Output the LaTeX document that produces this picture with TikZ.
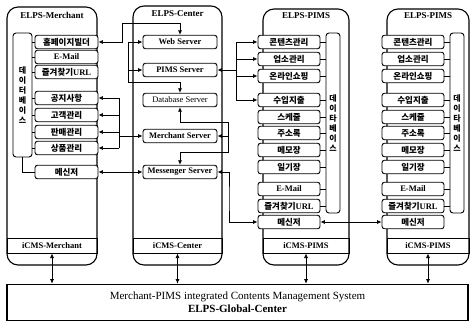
\documentclass[tikz,border=0pt]{standalone}
\usepackage{fontspec}
\setmainfont{Liberation Serif}
\newfontfamily\kr{Noto Sans CJK KR}
\usetikzlibrary{arrows.meta}

\tikzset{
  panel/.style={draw, line width=1.1pt, rounded corners=11pt},
  ttl/.style={font=\bfseries\fontsize{9}{10}\selectfont, inner sep=0pt},
  itm/.style={draw, fill=white, line width=0.9pt, rounded corners=2.5pt,
    minimum height=13.5pt, inner sep=0pt, font=\kr\bfseries\fontsize{8.5}{10}\selectfont},
  mitm/.style={itm, minimum width=63pt},
  pitm/.style={itm, minimum width=62pt},
  srv/.style={itm, minimum width=74pt, font=\bfseries\fontsize{8.5}{10}\selectfont},
  latin/.style={font=\bfseries\fontsize{8.5}{10}\selectfont},
  dbcol/.style={draw, fill=white, line width=0.9pt, rounded corners=3pt, inner sep=0pt,
    align=center, font=\kr\bfseries\fontsize{8}{10}\selectfont},
  band/.style={draw, line width=1pt, inner sep=0pt, minimum height=15pt,
    font=\bfseries\fontsize{8.5}{10}\selectfont},
  lnk/.style={line width=0.7pt},
  tip/.style={lnk, -{Latex[length=4.5pt,width=4pt]}},
  rtip/.style={lnk, {Latex[length=4.5pt,width=4pt]}-},
  dtip/.style={lnk, {Latex[length=4.5pt,width=4pt]}-{Latex[length=4.5pt,width=4pt]}},
}

\begin{document}
\begin{tikzpicture}[x=1pt,y=-1pt]
\useasboundingbox (0,0) rectangle (471,324);

% outer frames of the four systems
\draw[panel] (7,7) rectangle (97,265);
\draw[panel] (133,6) rectangle (222,265);
\draw[panel] (263,9) rectangle (349,265);
\draw[panel] (387,9) rectangle (469,265);

\node[ttl] (tm) at (52,15) {ELPS-Merchant};
\node[ttl] (tc) at (177.5,14) {ELPS-Center};
\node[ttl] (tp) at (306,16) {ELPS-PIMS};
\node[ttl] (tq) at (428,16) {ELPS-PIMS};

% iCMS bands
\node[band, minimum width=90pt] (mb) at (52,245.5) {iCMS-Merchant};
\node[band, minimum width=89pt] (cb) at (177.5,245.5) {iCMS-Center};
\node[band, minimum width=86pt] (pb) at (306,245.5) {iCMS-PIMS};
\node[band, minimum width=82pt] (qb) at (428,245.5) {iCMS-PIMS};

% global center
\node[draw, line width=1.6pt, minimum width=461pt, minimum height=36pt, inner sep=0pt,
  align=center, font=\fontsize{11}{13}\selectfont] (gc) at (237.5,302.5)
  {Merchant-PIMS integrated Contents Management System\\ \textbf{ELPS-Global-Center}};

% merchant side
\node[dbcol, minimum width=19pt, minimum height=124pt] (mdb) at (22.5,95) {데\\이\\터\\베\\이\\스};
\node[mitm] (m1) at (66.5,42) {홈페이지빌더};
\node[mitm, latin] (m2) at (66.5,57) {E-Mail};
\node[mitm] (m3) at (66.5,72) {즐겨찾기{\rmfamily URL}};
\node[mitm] (m4) at (66.5,98) {공지사항};
\node[mitm] (m5) at (66.5,115) {고객관리};
\node[mitm] (m6) at (66.5,132) {판매관리};
\node[mitm] (m7) at (66.5,148) {상품관리};
\node[mitm] (m8) at (66.5,172) {메신저};

% center servers
\node[srv] (web) at (180,42) {Web Server};
\node[srv] (pims) at (180,70) {PIMS Server};
\node[srv, font=\fontsize{8.5}{10}\selectfont] (dbs) at (180,100) {Database Server};
\node[srv] (msrv) at (180,136) {Merchant Server};
\node[srv] (msg) at (180,172) {Messenger Server};

% PIMS columns
\node[dbcol, minimum width=14pt, minimum height=180pt] (pdb) at (333,123) {데\\이\\타\\베\\이\\스};
\node[dbcol, minimum width=14pt, minimum height=180pt] (qdb) at (457,123) {데\\이\\타\\베\\이\\스};
\foreach \c/\x in {p/289,q/413}{
  \node[pitm] (\c1) at (\x,42) {콘텐츠관리};
  \node[pitm] (\c2) at (\x,59) {업소관리};
  \node[pitm] (\c3) at (\x,76) {온라인쇼핑};
  \node[pitm] (\c4) at (\x,100) {수입지출};
  \node[pitm] (\c5) at (\x,117) {스케줄};
  \node[pitm] (\c6) at (\x,133) {주소록};
  \node[pitm] (\c7) at (\x,150) {메모장};
  \node[pitm] (\c8) at (\x,167) {일기장};
  \node[pitm, latin] (\c9) at (\x,189) {E-Mail};
  \node[pitm] (\c10) at (\x,206) {즐겨찾기{\rmfamily URL}};
  \node[pitm] (\c11) at (\x,222) {메신저};
}

% links from items to their databases
\foreach \i in {1,...,7} \draw[lnk] (m\i.west) -- (mdb.east |- m\i.west);
\foreach \i in {1,...,10} {
  \draw[lnk] (p\i.east) -- (pdb.west |- p\i.east);
  \draw[lnk] (q\i.east) -- (qdb.west |- q\i.east);
}
\draw[lnk] (mdb.south) |- (m8.west);

% bend points
\coordinate (hb) at (122,23);
\coordinate (busA) at (128,82);
\coordinate (busM) at (119,136);
\coordinate (busR) at (228,122);
\coordinate (busR2) at (228,152);
\coordinate (busQ) at (229,200);
\coordinate (busP) at (236,70);

% center connectors
\draw[dtip] (m1.east) -| (hb) -| (web.north);
\draw[dtip] (dbs.north) |- (busA) |- (web.west);
\draw[tip] (busA |- pims.west) -- (pims.west);
\draw[lnk] (busM |- m4.east) -- (busM |- m7.east);
\foreach \i in {4,...,7} \draw[tip] (busM |- m\i.east) -- (m\i.east);
\draw[tip] (busM) -- (msrv.west);
\draw[dtip] (m8.east) -- (msg.west);
\draw[dtip] (dbs.south) |- (busR) -- (busR2) -| (msg.north);
\draw[tip] (busR |- msrv.east) -- (msrv.east);
\draw[dtip] (msg.east) -| (busQ) |- (p11.west);
\draw[rtip] (pims.east) -- (busP);
\draw[lnk] (busP |- p1.west) -- (busP |- p4.west);
\foreach \i in {1,...,4} \draw[tip] (busP |- p\i.west) -- (p\i.west);
\draw[dtip] (p11.east) -- (q11.west);

% links down to the global center
\foreach \b in {mb,cb,pb,qb} \draw[dtip] (\b.south) -- (\b.south |- gc.north);
\end{tikzpicture}
\end{document}
